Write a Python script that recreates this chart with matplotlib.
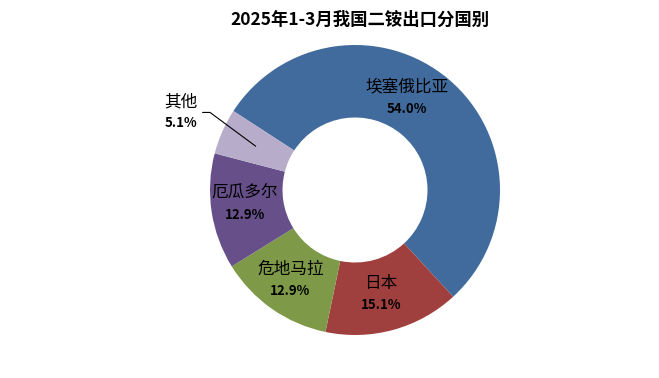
import numpy as np
import matplotlib
matplotlib.use('Agg')
import matplotlib.pyplot as plt

plt.rcParams['font.family'] = ['Noto Sans CJK SC', 'DejaVu Sans']

title = '2025年1-3月我国二铵出口分国别'
countries = ['埃塞俄比亚', '日本', '危地马拉', '厄瓜多尔', '其他']
shares = [54.0, 15.1, 12.9, 12.9, 5.1]
colors = ['#416B9C', '#A0403E', '#7E9A48', '#67508A', '#B7ADCA']
# label block centres (in units of the outer radius)
label_xy = [(0.36, 0.63), (0.18, -0.72), (-0.445, -0.625), (-0.76, -0.10), (-1.20, 0.535)]

fig = plt.figure(figsize=(6.59, 3.78), dpi=100)
cx, cy, r = 355, 190, 145
ax = fig.add_axes([(cx - r) / 659, (378 - cy - r) / 378, 2 * r / 659, 2 * r / 378])

wedges, _ = ax.pie(shares, colors=colors, startangle=147, counterclock=False,
                   radius=1, wedgeprops=dict(width=0.5, linewidth=0))
ax.set_xlim(-1, 1)
ax.set_ylim(-1, 1)
ax.set_aspect('equal')
ax.axis('off')

for (x, y), name, val in zip(label_xy, countries, shares):
    ax.text(x, y + 0.075, name, ha='center', va='center', fontsize=12, color='black')
    ax.text(x, y - 0.07, f'{val:.1f}%', ha='center', va='center', fontsize=9.5,
            fontweight='bold', color='black')

# leader line for the small slice
w = wedges[-1]
mid = np.deg2rad((w.theta1 + w.theta2) / 2)
px, py = 0.75 * np.cos(mid), 0.75 * np.sin(mid)
lx, ly = label_xy[-1]
ax.plot([lx + 0.15, lx + 0.20, px], [ly, ly, py], color='black', lw=0.8,
        clip_on=False)

fig.text(360 / 659, 1 - 20 / 378, title, ha='center', va='center', fontsize=12.5,
         fontweight='bold')

fig.savefig('out.png', dpi=100)
